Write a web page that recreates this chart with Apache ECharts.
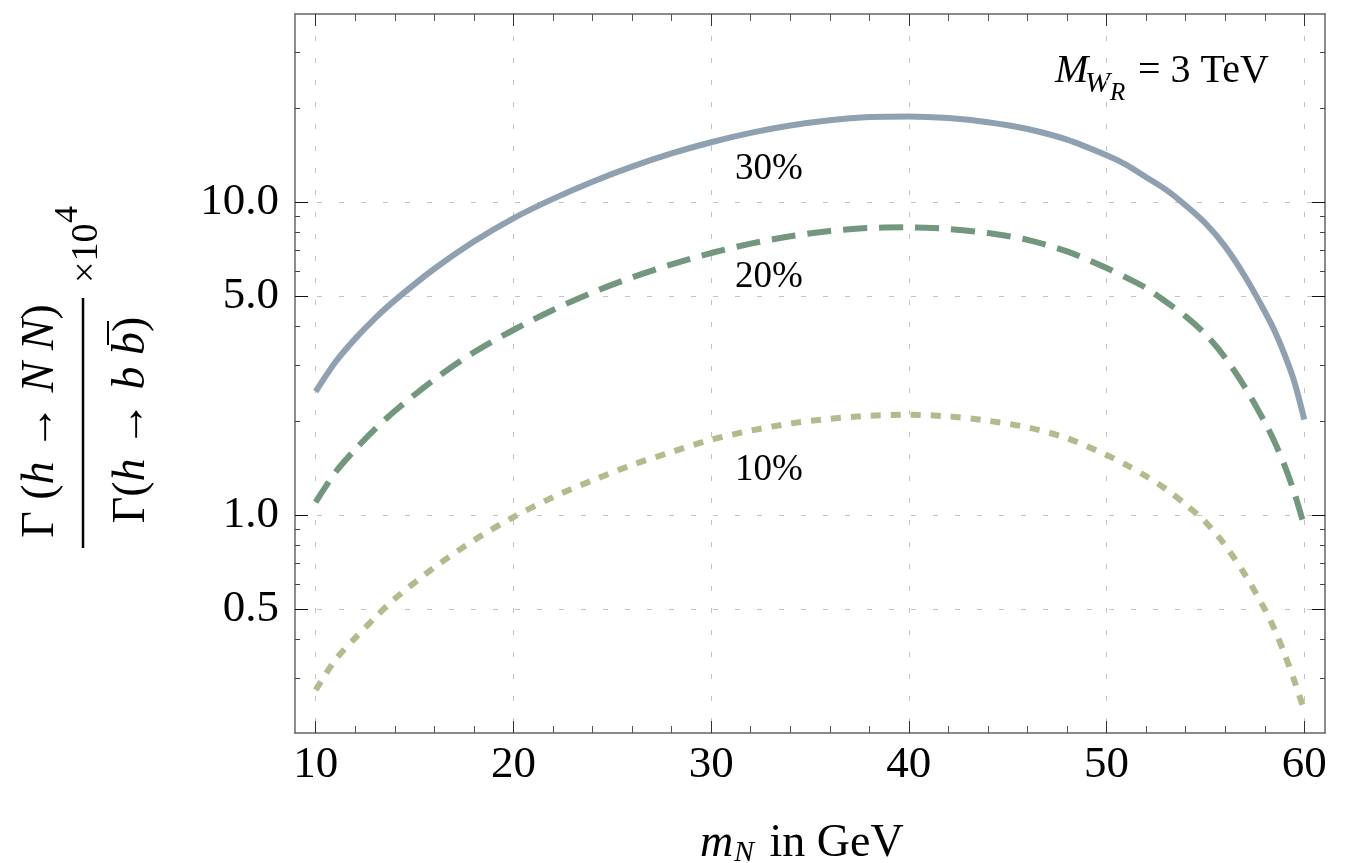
<!DOCTYPE html>
<html>
<head>
<meta charset="utf-8">
<title>Gamma(h -> NN) / Gamma(h -> bb)</title>
<script src="https://cdn.jsdelivr.net/npm/echarts@6/dist/echarts.min.js"></script>
<style>
  html, body { margin: 0; padding: 0; background: #fff; }
  #main { width: 1358px; height: 863px; }
</style>
</head>
<body>
<div id="main"></div>
<script>
// m_N in GeV
const mN = [10, 11, 12, 13, 14, 16, 18, 20, 22, 24, 26, 28, 30, 32, 34, 36, 38, 40, 42, 44, 46, 48, 50, 51, 52, 53, 54, 55, 56, 57, 58, 58.5, 59, 59.5, 60];
// ratio x 10^4
const ratio30 = [2.48, 3.08, 3.66, 4.25, 4.85, 6.12, 7.48, 8.87, 10.23, 11.61, 12.97, 14.29, 15.52, 16.62, 17.55, 18.25, 18.67, 18.76, 18.54, 17.99, 17.11, 15.82, 14.1, 13.15, 12.0, 10.95, 9.75, 8.55, 7.2, 5.78, 4.47, 3.87, 3.26, 2.66, 2.02];
const ratio20 = [1.10, 1.37, 1.62, 1.88, 2.15, 2.71, 3.31, 3.90, 4.52, 5.14, 5.74, 6.32, 6.87, 7.36, 7.77, 8.08, 8.26, 8.30, 8.20, 7.96, 7.57, 6.95, 6.15, 5.73, 5.31, 4.80, 4.31, 3.78, 3.18, 2.56, 1.98, 1.71, 1.44, 1.175, 0.92];
const ratio10 = [0.276, 0.345, 0.405, 0.47, 0.54, 0.68, 0.83, 0.985, 1.14, 1.29, 1.445, 1.59, 1.74, 1.86, 1.96, 2.03, 2.075, 2.09, 2.065, 2.0, 1.905, 1.76, 1.555, 1.445, 1.33, 1.21, 1.08, 0.95, 0.80, 0.645, 0.50, 0.43, 0.36, 0.295, 0.237];
const curveNames = ['30%', '20%', '10%'];

const xMajor = [10, 20, 30, 40, 50, 60];
const xMinor = [12, 14, 16, 18, 22, 24, 26, 28, 32, 34, 36, 38, 42, 44, 46, 48, 52, 54, 56, 58];
const yMajor = [0.5, 1, 5, 10];
const yMinor = [0.3, 0.4, 0.6, 0.7, 0.8, 0.9, 2, 3, 4, 6, 7, 8, 9, 20, 30];

const FONT = '"Liberation Serif", "Times New Roman", serif';
const X_MIN = 8.953, X_MAX = 61.047;
const Y_MIN = -0.6965, Y_MAX = 1.6006; // log10 space

const chart = echarts.init(document.getElementById('main'));

function toLog(arr) {
  return arr.map((v, i) => [mN[i], Math.log10(v)]);
}

const gridLine = { show: true, lineStyle: { color: '#c2c2c2', width: 1, type: [5, 17] } };
const frameLine = { show: true, onZero: false, lineStyle: { color: '#666', width: 1.5 } };

// one axis per tick set, so majors and minors can have their own length
function xAx(pos, ticks, len, major) {
  return {
    type: 'value', position: pos, min: X_MIN, max: X_MAX,
    axisLine: major ? frameLine : { show: false, onZero: false },
    axisTick: { show: true, inside: true, length: len, customValues: ticks,
      lineStyle: { color: major ? '#333' : '#555', width: 1 } },
    axisLabel: (major && pos === 'bottom') ? {
      show: true, customValues: ticks, fontSize: 45, fontFamily: FONT, color: '#000', margin: 10
    } : { show: false },
    splitLine: (major && pos === 'bottom') ? gridLine : { show: false }
  };
}
function yAx(pos, ticks, len, major) {
  const vals = ticks.map(Math.log10);
  return {
    type: 'value', position: pos, min: Y_MIN, max: Y_MAX,
    axisLine: major ? frameLine : { show: false, onZero: false },
    axisTick: { show: true, inside: true, length: len, customValues: vals,
      lineStyle: { color: major ? '#111' : '#444', width: 1 } },
    axisLabel: (major && pos === 'left') ? {
      show: true, customValues: vals, fontSize: 45, fontFamily: FONT, color: '#000', margin: 16,
      formatter: v => Math.pow(10, v).toFixed(1)
    } : { show: false },
    splitLine: (major && pos === 'left') ? gridLine : { show: false }
  };
}

function txt(x, y, s, size, align) {
  return {
    type: 'text', x: x, y: y,
    style: { text: s, fontSize: size, fontFamily: FONT, fill: '#000', align: align || 'left', verticalAlign: 'middle' }
  };
}
function itxt(x, y, s, size) {
  const t = txt(x, y, s, size);
  t.style.fontStyle = 'italic';
  return t;
}

// y axis title: rotated fraction
const richU = { fontSize: 46, fontFamily: FONT, fill: '#000' };
const richI = { fontSize: 46, fontFamily: FONT, fontStyle: 'italic', fill: '#000' };
const yTitle = {
  type: 'group', x: 83, y: 423, rotation: Math.PI / 2,
  children: [
    { type: 'line', shape: { x1: -125, y1: 0, x2: 125, y2: 0 }, style: { stroke: '#000', lineWidth: 2.5 } },
    { type: 'text', x: 2, y: -42, style: {
      text: '{u|Γ (}{i|h}{u| → }{i|N N}{u|)}', align: 'center', verticalAlign: 'middle',
      rich: { u: richU, i: richI } } },
    { type: 'text', x: 3, y: 49, style: {
      text: '{u|Γ(}{i|h}{u| → }{i|b b}{u|)}', align: 'center', verticalAlign: 'middle',
      rich: { u: richU, i: richI } } },
    { type: 'line', shape: { x1: 78, y1: 25, x2: 102, y2: 25 }, style: { stroke: '#000', lineWidth: 2 } },
    txt(140, 4, '×10', 38),
    txt(200, -15, '4', 34)
  ]
};

const option = {
  animation: false,
  backgroundColor: '#fff',
  grid: { left: 295, top: 14, width: 1030, height: 719, containLabel: false, outerBoundsMode: 'none' },
  xAxis: [
    xAx('bottom', xMajor, 12, true),
    xAx('bottom', xMinor, 7, false),
    xAx('top', xMajor, 12, true),
    xAx('top', xMinor, 7, false)
  ],
  yAxis: [
    yAx('left', yMajor, 13, true),
    yAx('left', yMinor, 5, false),
    yAx('right', yMajor, 13, true),
    yAx('right', yMinor, 5, false)
  ],
  series: [
    {
      name: curveNames[0], type: 'line', data: toLog(ratio30), smooth: 0.3, showSymbol: false,
      lineStyle: { color: '#8fa0b0', width: 6 }
    },
    {
      name: curveNames[1], type: 'line', data: toLog(ratio20), smooth: 0.3, showSymbol: false,
      lineStyle: { color: '#72967e', width: 6, type: [24, 12], cap: 'butt' }
    },
    {
      name: curveNames[2], type: 'line', data: toLog(ratio10), smooth: 0.3, showSymbol: false,
      lineStyle: { color: '#b2bb8e', width: 6, type: [10, 10], cap: 'butt' }
    }
  ],
  graphic: [
    yTitle,
    // x axis title
    itxt(700, 844, 'm', 46),
    itxt(734, 853, 'N', 30),
    txt(758, 844, ' in GeV', 46),
    // M_{W_R} = 3 TeV
    itxt(1055, 71, 'M', 40),
    itxt(1085, 84, 'W', 30),
    itxt(1110, 93, 'R', 25),
    txt(1138, 71, '= 3 TeV', 40),
    // curve labels
    txt(769, 169, curveNames[0], 37, 'center'),
    txt(769, 277, curveNames[1], 37, 'center'),
    txt(769, 470, curveNames[2], 37, 'center')
  ]
};

chart.setOption(option);
</script>
</body>
</html>
